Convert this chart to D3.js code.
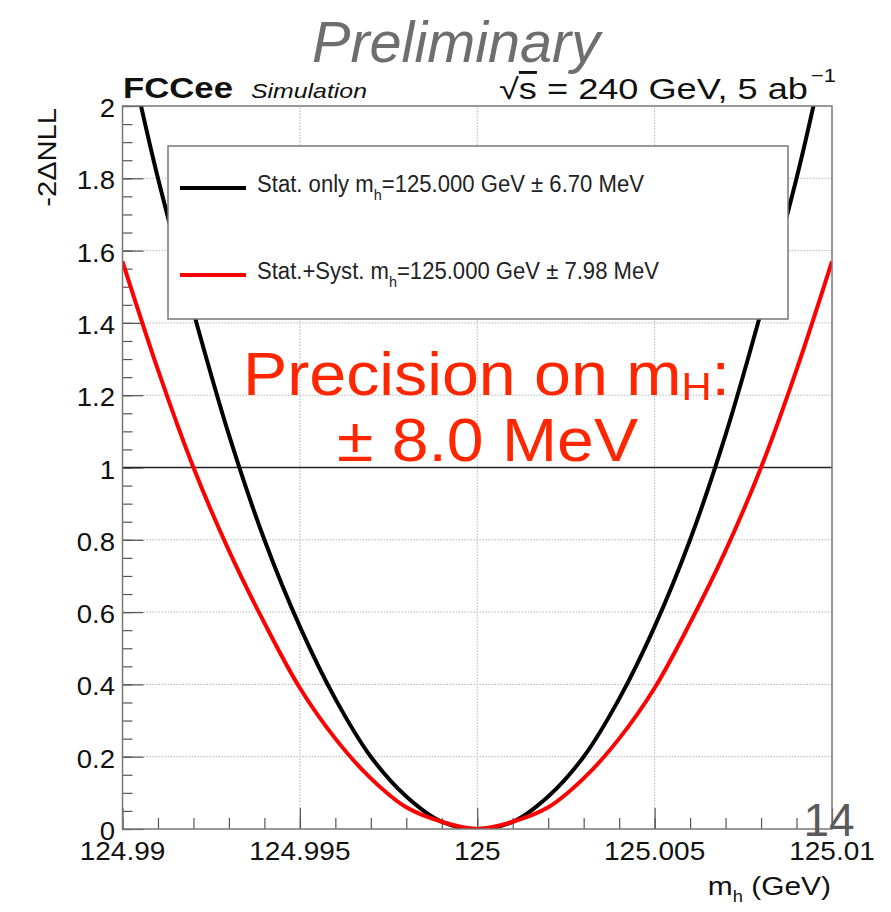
<!DOCTYPE html>
<html>
<head>
<meta charset="utf-8">
<script src="https://cdn.jsdelivr.net/npm/d3@7/dist/d3.min.js"></script>
<style>
  html, body { margin: 0; padding: 0; background: #fff; }
  svg { display: block; }
  text { font-family: "Liberation Sans", Arial, Helvetica, sans-serif; }
</style>
</head>
<body>
<svg id="chart" width="891" height="912"></svg>
<script>
// ---- data ----
const massStat = [124.9905, 124.991, 124.992, 124.993, 124.994, 124.995, 124.996, 124.997, 124.998, 124.999, 125.000,
                  125.001, 125.002, 125.003, 125.004, 125.005, 125.006, 125.007, 125.008, 125.009, 125.0095];
const nllStat  = [2.01, 1.80, 1.43, 1.09, 0.80, 0.56, 0.36, 0.20, 0.09, 0.02, 0.00,
                  0.02, 0.09, 0.20, 0.36, 0.56, 0.80, 1.09, 1.43, 1.80, 2.01];
const massSyst = [124.990, 124.991, 124.992, 124.993, 124.994, 124.995, 124.996, 124.997, 124.998, 124.999, 125.000,
                  125.001, 125.002, 125.003, 125.004, 125.005, 125.006, 125.007, 125.008, 125.009, 125.010];
const nllSyst  = [1.57, 1.27, 1.00, 0.77, 0.57, 0.39, 0.25, 0.14, 0.06, 0.02, 0.00,
                  0.02, 0.06, 0.14, 0.25, 0.39, 0.57, 0.77, 1.00, 1.27, 1.57];
const xTickValues = [124.99, 124.995, 125, 125.005, 125.01];
const xTickLabels = ["124.99", "124.995", "125", "125.005", "125.01"];
const yTickValues = [0, 0.2, 0.4, 0.6, 0.8, 1, 1.2, 1.4, 1.6, 1.8, 2];
const yTickLabels = ["0", "0.2", "0.4", "0.6", "0.8", "1", "1.2", "1.4", "1.6", "1.8", "2"];
const legendLabels = ["Stat. only", "Stat.+Syst."];
const legendValues = ["125.000 GeV \u00B1 6.70 MeV", "125.000 GeV \u00B1 7.98 MeV"];

// ---- layout ----
const svg = d3.select("#chart");
const X0 = 122.5, X1 = 832, Y0 = 829, Y1 = 106;
const x = d3.scaleLinear().domain([124.99, 125.01]).range([X0, X1]);
const y = d3.scaleLinear().domain([0, 2]).range([Y0, Y1]);

svg.append("rect").attr("width", 891).attr("height", 912).attr("fill", "#fff");

svg.append("defs").append("clipPath").attr("id", "plotclip")
  .append("rect").attr("x", X0).attr("y", Y1).attr("width", X1 - X0).attr("height", Y0 - Y1);

// grid
const grid = svg.append("g");
grid.selectAll("line.gx").data(xTickValues.slice(1, -1)).enter().append("line")
  .attr("x1", d => x(d)).attr("x2", d => x(d)).attr("y1", Y0).attr("y2", Y1)
  .attr("stroke", "#b5b5b5").attr("stroke-width", 1).attr("stroke-dasharray", "1.5,1.5");
grid.selectAll("line.gy").data(yTickValues.slice(1, -1)).enter().append("line")
  .attr("y1", d => y(d)).attr("y2", d => y(d)).attr("x1", X0).attr("x2", X1)
  .attr("stroke", "#b5b5b5").attr("stroke-width", 1).attr("stroke-dasharray", "1.5,1.5");

// ticks (major and minor) via d3 axes
const xMinor = d3.range(0, 21).map(i => 124.99 + i * 0.001);
const yMinor = d3.range(0, 41).map(i => i * 0.05);
function styleTicks(g) {
  g.select(".domain").remove();
  g.selectAll("line").attr("stroke", "#555").attr("stroke-width", 1.2);
}
svg.append("g").attr("transform", `translate(0,${Y0})`)
  .call(d3.axisTop(x).tickValues(xMinor).tickSize(11).tickFormat("")).call(styleTicks);
svg.append("g").attr("transform", `translate(0,${Y0})`)
  .call(d3.axisTop(x).tickValues(xTickValues).tickSize(21).tickFormat("")).call(styleTicks);
svg.append("g").attr("transform", `translate(${X0},0)`)
  .call(d3.axisRight(y).tickValues(yMinor).tickSize(10).tickFormat("")).call(styleTicks);
svg.append("g").attr("transform", `translate(${X0},0)`)
  .call(d3.axisRight(y).tickValues(yTickValues).tickSize(21).tickFormat("")).call(styleTicks);

// tick labels
svg.append("g").selectAll("text").data(xTickValues).enter().append("text")
  .attr("transform", d => `translate(${x(d)},860) scale(1.12,1)`).attr("text-anchor", "middle")
  .attr("font-size", 25).attr("fill", "#111")
  .text((d, i) => xTickLabels[i]);
svg.append("g").selectAll("text").data(yTickValues).enter().append("text")
  .attr("transform", d => `translate(115,${y(d) + 11}) scale(1.06,1)`).attr("text-anchor", "end")
  .attr("font-size", 26).attr("fill", "#111")
  .text((d, i) => yTickLabels[i]);

// line at 1
svg.append("line").attr("x1", X0).attr("x2", X1).attr("y1", y(1)).attr("y2", y(1))
  .attr("stroke", "#222").attr("stroke-width", 1.5);

// curves
const line = d3.line().x(d => x(d[0])).y(d => y(d[1])).curve(d3.curveCatmullRom.alpha(0.5));
const curves = svg.append("g").attr("clip-path", "url(#plotclip)");
curves.append("path").datum(massStat.map((m, i) => [m, nllStat[i]]))
  .attr("d", line).attr("fill", "none").attr("stroke", "#000").attr("stroke-width", 4);
curves.append("path").datum(massSyst.map((m, i) => [m, nllSyst[i]]))
  .attr("d", line).attr("fill", "none").attr("stroke", "#f00").attr("stroke-width", 4);

// frame
svg.append("rect").attr("x", X0).attr("y", Y1).attr("width", X1 - X0).attr("height", Y0 - Y1)
  .attr("fill", "none").attr("stroke", "#777").attr("stroke-width", 1.5);

// legend
const leg = svg.append("g");
leg.append("rect").attr("x", 168).attr("y", 146).attr("width", 620).attr("height", 173)
  .attr("fill", "#fff").attr("stroke", "#777").attr("stroke-width", 1.5);
const legColors = ["#000", "#f00"];
const legY = [188, 275];
const legLen = [387, 402];
legendLabels.forEach((lab, i) => {
  leg.append("line").attr("x1", 180).attr("x2", 246).attr("y1", legY[i]).attr("y2", legY[i])
    .attr("stroke", legColors[i]).attr("stroke-width", 4);
  const t = leg.append("text").attr("x", 257).attr("y", legY[i] + 4).attr("font-size", 23).attr("fill", "#222")
    .attr("textLength", legLen[i]).attr("lengthAdjust", "spacingAndGlyphs");
  t.append("tspan").text(lab + " m");
  t.append("tspan").attr("font-size", 15).attr("dy", 8).text("h");
  t.append("tspan").attr("dy", -8).text("=" + legendValues[i]);
});

// annotation
const ann = svg.append("g").attr("fill", "#ff2600");
const a1 = ann.append("text").attr("x", 243).attr("y", 395).attr("font-size", 62)
  .attr("textLength", 487).attr("lengthAdjust", "spacingAndGlyphs");
a1.append("tspan").text("Precision on m");
a1.append("tspan").attr("font-size", 39).attr("dy", 5).text("H");
a1.append("tspan").attr("dy", -5).text(":");
ann.append("text").attr("x", 337).attr("y", 461).attr("font-size", 62)
  .attr("textLength", 301).attr("lengthAdjust", "spacingAndGlyphs")
  .text("\u00B1 8.0 MeV");

// header texts
svg.append("text").attr("x", 312).attr("y", 62)
  .attr("font-size", 57).attr("font-style", "italic").attr("fill", "#6e6e6e")
  .attr("textLength", 288).attr("lengthAdjust", "spacingAndGlyphs").text("Preliminary");
svg.append("text").attr("x", 123).attr("y", 98).attr("font-size", 29).attr("font-weight", "bold")
  .attr("fill", "#111").attr("textLength", 110).attr("lengthAdjust", "spacingAndGlyphs").text("FCCee");
svg.append("text").attr("x", 251).attr("y", 98).attr("font-size", 21).attr("font-style", "italic")
  .attr("fill", "#111").attr("textLength", 116).attr("lengthAdjust", "spacingAndGlyphs").text("Simulation");
const rs = svg.append("text").attr("x", 499).attr("y", 99)
  .attr("font-size", 29).attr("fill", "#111")
  .attr("textLength", 309).attr("lengthAdjust", "spacingAndGlyphs");
rs.append("tspan").text("\u221A");
rs.append("tspan").attr("text-decoration", "overline").text("s");
rs.append("tspan").text(" = 240 GeV, 5 ab");
svg.append("text").attr("x", 811).attr("y", 82).attr("font-size", 19).attr("fill", "#111")
  .attr("textLength", 25).attr("lengthAdjust", "spacingAndGlyphs").text("\u22121");

// axis titles
svg.append("text").attr("transform", "translate(56,108) rotate(-90) scale(1.12,1)").attr("text-anchor", "end")
  .attr("font-size", 26).attr("fill", "#111").text("-2\u0394NLL");
const xt = svg.append("text").attr("transform", "translate(831,895) scale(1.15,1)").attr("text-anchor", "end")
  .attr("font-size", 26).attr("fill", "#111");
xt.append("tspan").text("m");
xt.append("tspan").attr("font-size", 16).attr("dy", 7).text("h");
xt.append("tspan").attr("dy", -7).text(" (GeV)");

// page number
svg.append("text").attr("x", 829).attr("y", 836).attr("text-anchor", "middle")
  .attr("font-size", 46).attr("fill", "#5a5a5a").text("14");
</script>
</body>
</html>
